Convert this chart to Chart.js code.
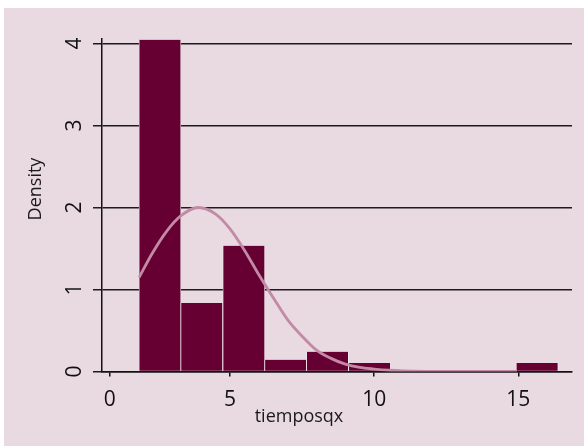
<!DOCTYPE html>
<html>
<head>
<meta charset="utf-8">
<style>
  html, body { margin: 0; padding: 0; background: #ffffff; }
  #wrap { width: 584px; height: 446px; }
</style>
<script src="https://cdn.jsdelivr.net/npm/chart.js@4/dist/chart.umd.min.js"></script>
</head>
<body>
<div id="wrap"><canvas id="hist" width="584" height="446"></canvas></div>
<script>
// Histogram of tiemposqx (density scale) with a normal curve overlay
const binCenters = [2.57, 4.02, 5.48, 6.93, 8.38, 9.84, 11.29, 12.74, 14.20, 15.65];
const binDensity = [4.045, 0.836, 1.533, 0.143, 0.24, 0.104, 0, 0, 0, 0.104];

const curveX = [1.85, 2.3, 2.8, 3.3, 3.9, 4.5, 5.0, 5.5, 6.0, 6.5, 7.0, 7.5, 8.0, 8.5, 9.0, 9.5, 10.0, 10.5, 11.0, 12.0, 13.0, 14.0, 14.95];
const curveY = [1.15, 1.44, 1.71, 1.90, 2.00, 1.92, 1.74, 1.48, 1.18, 0.90, 0.63, 0.43, 0.26, 0.16, 0.09, 0.05, 0.03, 0.015, 0.007, 0.002, 0, 0, 0];

const xTickValues = [0.83, 5, 10, 15];
const xTickLabels = ['0', '5', '10', '15'];
const yTickValues = [0, 1, 2, 3, 4];
const yTickLabels = ['0', '1', '2', '3', '4'];

const xTitle = 'tiemposqx';
const yTitle = 'Density';

const FONT = "'Open Sans', 'DejaVu Sans', sans-serif";
const BG = '#e9d9e1';
const BAR = '#660033';
const CURVE = '#c38aa5';
const INK = '#111111';

const backdrop = {
  id: 'backdrop',
  beforeDraw(chart) {
    const { ctx, width, height } = chart;
    ctx.save();
    ctx.fillStyle = '#ffffff';
    ctx.fillRect(0, 0, width, height);
    ctx.fillStyle = BG;
    ctx.fillRect(4, 8, width - 4, height - 8);
    ctx.restore();
  }
};

const axisTitles = {
  id: 'axisTitles',
  afterDraw(chart) {
    const { ctx } = chart;
    ctx.save();
    ctx.fillStyle = '#1a1a1a';
    ctx.font = '18px ' + FONT;
    ctx.textAlign = 'center';
    ctx.textBaseline = 'middle';
    ctx.fillText(xTitle, 299, 417);
    ctx.translate(36, 189);
    ctx.rotate(-Math.PI / 2);
    ctx.fillText(yTitle, 0, 0);
    ctx.restore();
  }
};

new Chart(document.getElementById('hist'), {
  data: {
    datasets: [
      {
        type: 'line',
        label: 'normal',
        data: curveX.map((x, i) => ({ x: x, y: curveY[i] })),
        borderColor: CURVE,
        borderWidth: 2.8,
        pointRadius: 0,
        fill: false,
        cubicInterpolationMode: 'monotone',
        order: 1
      },
      {
        type: 'bar',
        label: 'density',
        data: binCenters.map((x, i) => ({ x: x, y: binDensity[i] })),
        backgroundColor: BAR,
        borderColor: 'rgba(255,255,255,0.95)',
        borderWidth: { left: 0.7, right: 0.7, top: 0, bottom: 0 },
        borderSkipped: false,
        barPercentage: 1,
        categoryPercentage: 1,
        order: 2
      }
    ]
  },
  options: {
    responsive: false,
    animation: false,
    devicePixelRatio: 1,
    layout: { padding: { top: 38.6, right: 12, left: 0, bottom: 0 } },
    plugins: {
      legend: { display: false },
      tooltip: { enabled: false },
      title: { display: false }
    },
    scales: {
      x: {
        type: 'linear',
        min: 0.56,
        max: 16.86,
        offset: false,
        afterFit(scale) { scale.height = 74.5; },
        afterBuildTicks(scale) { scale.ticks = xTickValues.map(v => ({ value: v })); },
        ticks: {
          callback: (value, index) => xTickLabels[index],
          font: { family: FONT, size: 21 },
          color: INK,
          padding: 11,
          maxRotation: 0,
          minRotation: 0,
          autoSkip: false
        },
        grid: {
          display: true,
          offset: false,
          drawOnChartArea: false,
          drawTicks: true,
          tickLength: 5,
          color: INK,
          lineWidth: 1.5
        },
        border: { display: true, color: INK, width: 1.5 }
      },
      y: {
        type: 'linear',
        min: 0,
        max: 4.06,
        afterFit(scale) { scale.width = 102; },
        afterBuildTicks(scale) { scale.ticks = yTickValues.map(v => ({ value: v })); },
        ticks: {
          callback: (value, index) => yTickLabels[index],
          font: { family: FONT, size: 21 },
          color: INK,
          padding: 12,
          minRotation: 90,
          maxRotation: 90,
          crossAlign: 'center',
          autoSkip: false
        },
        grid: {
          display: true,
          drawOnChartArea: true,
          drawTicks: true,
          tickLength: 9,
          color: '#1c1c1c',
          lineWidth: 1.5
        },
        border: { display: true, color: INK, width: 1.5 }
      }
    }
  },
  plugins: [backdrop, axisTitles]
});
</script>
</body>
</html>
